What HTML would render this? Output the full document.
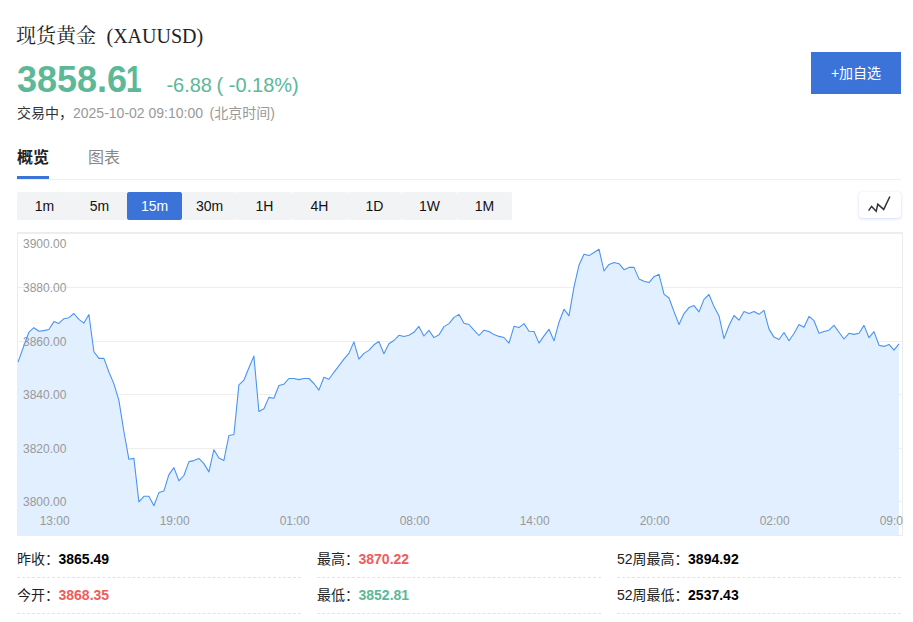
<!DOCTYPE html>
<html lang="zh-CN">
<head>
<meta charset="utf-8">
<title>现货黄金 (XAUUSD)</title>
<style>
*{margin:0;padding:0;box-sizing:border-box;}
html,body{width:913px;height:622px;overflow:hidden;background:#fff;}
body{font-family:"Liberation Sans","Noto Sans CJK SC",sans-serif;color:#222;position:relative;}
.abs{position:absolute;white-space:nowrap;}
.title{left:17px;top:22px;font-family:"Liberation Serif","Noto Serif CJK SC",serif;font-size:20px;line-height:28px;color:#222;word-spacing:4.5px;}
.price{left:17px;top:59px;font-size:36px;line-height:42px;font-weight:bold;color:#5cb897;}
.price i{font-style:normal;display:inline-block;transform:scaleX(.79);transform-origin:0 50%;margin-left:-.7px;}
.chg{left:166.4px;top:73px;font-size:20px;line-height:24px;color:#5cb897;}
.chg2{left:216.5px;top:73px;font-size:20px;line-height:24px;color:#5cb897;}
.status{left:17px;top:104px;font-size:14px;line-height:18px;color:#999;}
.status b{font-weight:normal;color:#333;}
.btn{left:811px;top:52px;width:90px;height:42px;background:#3b73d9;color:#fff;font-size:14px;line-height:42px;text-align:center;}
.tab1{left:17px;top:147px;font-size:16px;line-height:22px;font-weight:bold;color:#222;}
.tab2{left:88px;top:147px;font-size:16px;line-height:22px;color:#888;}
.tabline{left:17px;top:176px;width:32px;height:3px;background:#3b73d9;}
.hr{left:17px;top:179px;width:884px;height:1px;background:#eee;}
.per{left:17px;top:192px;height:28px;display:flex;}
.per span{display:block;width:55px;height:28px;line-height:28px;text-align:center;font-size:14px;color:#111;background:#f2f3f5;border-radius:2px;}
.per span.on{background:#3b73d9;color:#fff;}
.tog{left:859px;top:192px;width:42px;height:26px;background:#fff;border-radius:3px;box-shadow:0 0 1px rgba(80,110,180,.22),0 1px 3px rgba(59,115,217,.22);}
.chart{left:17px;top:232px;width:886px;height:304px;}
.stat{font-size:14px;line-height:18px;color:#222;}
.stat b{font-weight:bold;margin-left:-0.5px;color:#000}
.stat b.red{color:#f05c5c;}
.stat b.grn{color:#5cb897;}
.dash{height:0;border-top:1px dashed #e3e3e3;}
</style>
</head>
<body>
<div class="abs title"><span style="margin-left:-1px;margin-right:1px">现货黄金</span> (XAUUSD)</div>
<div class="abs price">3858.6<i>1</i></div>
<div class="abs chg">-6.88</div><div class="abs chg2">( -0.18%)</div>
<div class="abs status"><b>交易中，</b>2025-10-02 09:10:00 <span style="margin-left:2.7px">(北京时间)</span></div>
<div class="abs btn">+加自选</div>
<div class="abs tab1">概览</div>
<div class="abs tab2">图表</div>
<div class="abs tabline"></div>
<div class="abs hr"></div>
<div class="abs per"><span>1m</span><span>5m</span><span class="on">15m</span><span>30m</span><span>1H</span><span>4H</span><span>1D</span><span>1W</span><span>1M</span></div>
<div class="abs tog"><svg width="42" height="26" viewBox="0 0 42 26" style="display:block"><path d="M9.6 18.6 L12.6 14.4 L17.2 19.3 L18.8 12.1 L24.7 17.4 L30.9 4.5" fill="none" stroke="#333" stroke-width="1.5" stroke-linejoin="miter"/></svg></div>
<svg class="abs chart" width="886" height="304" viewBox="0 0 886 304">
<rect x="0.5" y="0.5" width="885" height="303" fill="#fff" stroke="#ececec"/>
<line x1="1" x2="885" y1="1.5" y2="1.5" stroke="#eeeeee" stroke-width="1"/>
<line x1="1" x2="885" y1="55.5" y2="55.5" stroke="#eeeeee" stroke-width="1"/>
<line x1="1" x2="885" y1="109.5" y2="109.5" stroke="#eeeeee" stroke-width="1"/>
<line x1="1" x2="885" y1="162.5" y2="162.5" stroke="#eeeeee" stroke-width="1"/>
<line x1="1" x2="885" y1="216.5" y2="216.5" stroke="#eeeeee" stroke-width="1"/>
<line x1="1" x2="885" y1="269.5" y2="269.5" stroke="#eeeeee" stroke-width="1"/>
<path d="M1.0 130.1 L1.9 127.6 L6.9 113.8 L11.9 100.2 L16.9 95.7 L21.9 99.3 L26.9 98.6 L31.9 97.5 L36.9 89.6 L41.9 91.4 L46.9 86.7 L51.9 85.7 L56.9 81.5 L61.9 87.4 L66.9 91.1 L71.9 82.5 L76.9 119.7 L81.9 126.4 L86.9 126.4 L91.9 140.0 L96.9 151.9 L101.9 168.4 L106.9 199.5 L111.9 227.3 L116.9 226.4 L121.9 269.9 L126.9 264.3 L131.9 264.3 L136.9 273.8 L141.9 260.6 L146.9 258.9 L151.9 242.6 L156.9 235.6 L161.9 248.8 L166.9 243.5 L171.9 229.6 L176.9 228.6 L181.9 226.4 L186.9 231.6 L191.9 239.9 L196.9 217.7 L201.9 226.0 L206.9 228.4 L211.9 203.5 L216.9 202.5 L221.9 152.9 L226.9 148.2 L231.9 135.7 L236.9 124.1 L241.9 179.5 L246.9 176.8 L251.9 165.4 L256.9 166.3 L261.9 153.5 L266.9 152.2 L271.9 146.5 L276.9 146.5 L281.9 147.6 L286.9 146.5 L291.9 146.5 L296.9 151.5 L301.9 158.1 L306.9 145.3 L311.9 147.3 L316.9 140.3 L321.9 133.8 L326.9 127.2 L331.9 121.4 L336.9 109.9 L341.9 127.1 L346.9 121.4 L351.9 118.4 L356.9 112.8 L361.9 109.5 L366.9 121.8 L371.9 111.8 L376.9 108.5 L381.9 103.3 L386.9 104.5 L391.9 103.3 L396.9 100.3 L401.9 94.4 L406.9 104.0 L411.9 98.3 L416.9 105.6 L422.0 102.7 L427.0 94.6 L432.0 91.6 L437.0 85.4 L442.0 82.4 L447.0 91.2 L452.0 92.5 L457.0 98.2 L462.0 103.5 L467.0 98.2 L472.0 99.5 L477.0 102.6 L482.0 104.4 L487.0 105.5 L492.0 111.1 L497.0 94.3 L502.0 95.6 L507.0 91.6 L512.0 99.3 L517.0 99.5 L522.0 111.1 L527.0 103.9 L532.0 97.3 L537.0 108.8 L542.0 90.2 L547.0 77.2 L552.0 83.8 L557.0 54.8 L562.0 33.1 L567.0 22.2 L572.0 23.6 L577.0 20.5 L582.0 17.2 L587.0 39.0 L592.0 32.4 L597.0 30.4 L602.0 31.7 L607.0 37.7 L612.0 35.4 L617.0 35.4 L622.0 46.9 L627.0 49.3 L632.0 50.6 L637.0 44.7 L642.0 42.3 L647.0 62.1 L652.0 66.0 L657.0 79.6 L662.0 92.5 L667.0 81.6 L672.0 75.6 L677.0 73.6 L682.0 79.9 L687.0 67.4 L692.0 62.5 L697.0 74.6 L702.0 83.9 L707.0 106.6 L712.0 93.5 L717.0 83.5 L722.0 88.2 L727.0 79.5 L732.0 81.6 L737.0 79.5 L742.0 82.3 L747.0 78.3 L752.0 97.1 L757.0 105.1 L762.0 107.5 L767.0 100.5 L772.0 108.8 L777.0 101.5 L782.0 92.6 L787.0 95.2 L792.0 84.4 L797.0 88.7 L802.0 101.3 L807.0 99.5 L812.0 98.2 L817.0 93.4 L822.0 100.2 L827.0 107.0 L832.0 101.3 L837.0 102.4 L842.0 101.3 L847.0 93.4 L852.0 105.7 L857.0 99.6 L862.0 113.2 L867.0 114.4 L872.0 112.4 L877.0 118.1 L882.0 111.9 L882.0 303 L1.0 303 Z" fill="#e1efff"/>
<path d="M1.0 130.1 L1.9 127.6 L6.9 113.8 L11.9 100.2 L16.9 95.7 L21.9 99.3 L26.9 98.6 L31.9 97.5 L36.9 89.6 L41.9 91.4 L46.9 86.7 L51.9 85.7 L56.9 81.5 L61.9 87.4 L66.9 91.1 L71.9 82.5 L76.9 119.7 L81.9 126.4 L86.9 126.4 L91.9 140.0 L96.9 151.9 L101.9 168.4 L106.9 199.5 L111.9 227.3 L116.9 226.4 L121.9 269.9 L126.9 264.3 L131.9 264.3 L136.9 273.8 L141.9 260.6 L146.9 258.9 L151.9 242.6 L156.9 235.6 L161.9 248.8 L166.9 243.5 L171.9 229.6 L176.9 228.6 L181.9 226.4 L186.9 231.6 L191.9 239.9 L196.9 217.7 L201.9 226.0 L206.9 228.4 L211.9 203.5 L216.9 202.5 L221.9 152.9 L226.9 148.2 L231.9 135.7 L236.9 124.1 L241.9 179.5 L246.9 176.8 L251.9 165.4 L256.9 166.3 L261.9 153.5 L266.9 152.2 L271.9 146.5 L276.9 146.5 L281.9 147.6 L286.9 146.5 L291.9 146.5 L296.9 151.5 L301.9 158.1 L306.9 145.3 L311.9 147.3 L316.9 140.3 L321.9 133.8 L326.9 127.2 L331.9 121.4 L336.9 109.9 L341.9 127.1 L346.9 121.4 L351.9 118.4 L356.9 112.8 L361.9 109.5 L366.9 121.8 L371.9 111.8 L376.9 108.5 L381.9 103.3 L386.9 104.5 L391.9 103.3 L396.9 100.3 L401.9 94.4 L406.9 104.0 L411.9 98.3 L416.9 105.6 L422.0 102.7 L427.0 94.6 L432.0 91.6 L437.0 85.4 L442.0 82.4 L447.0 91.2 L452.0 92.5 L457.0 98.2 L462.0 103.5 L467.0 98.2 L472.0 99.5 L477.0 102.6 L482.0 104.4 L487.0 105.5 L492.0 111.1 L497.0 94.3 L502.0 95.6 L507.0 91.6 L512.0 99.3 L517.0 99.5 L522.0 111.1 L527.0 103.9 L532.0 97.3 L537.0 108.8 L542.0 90.2 L547.0 77.2 L552.0 83.8 L557.0 54.8 L562.0 33.1 L567.0 22.2 L572.0 23.6 L577.0 20.5 L582.0 17.2 L587.0 39.0 L592.0 32.4 L597.0 30.4 L602.0 31.7 L607.0 37.7 L612.0 35.4 L617.0 35.4 L622.0 46.9 L627.0 49.3 L632.0 50.6 L637.0 44.7 L642.0 42.3 L647.0 62.1 L652.0 66.0 L657.0 79.6 L662.0 92.5 L667.0 81.6 L672.0 75.6 L677.0 73.6 L682.0 79.9 L687.0 67.4 L692.0 62.5 L697.0 74.6 L702.0 83.9 L707.0 106.6 L712.0 93.5 L717.0 83.5 L722.0 88.2 L727.0 79.5 L732.0 81.6 L737.0 79.5 L742.0 82.3 L747.0 78.3 L752.0 97.1 L757.0 105.1 L762.0 107.5 L767.0 100.5 L772.0 108.8 L777.0 101.5 L782.0 92.6 L787.0 95.2 L792.0 84.4 L797.0 88.7 L802.0 101.3 L807.0 99.5 L812.0 98.2 L817.0 93.4 L822.0 100.2 L827.0 107.0 L832.0 101.3 L837.0 102.4 L842.0 101.3 L847.0 93.4 L852.0 105.7 L857.0 99.6 L862.0 113.2 L867.0 114.4 L872.0 112.4 L877.0 118.1 L882.0 111.9" fill="none" stroke="#4a93f0" stroke-width="1.08" stroke-linejoin="round"/>
<g font-family="Liberation Sans, Arial, sans-serif" font-size="12" fill="#999">
<text x="6" y="15.8">3900.00</text>
<text x="6" y="59.8">3880.00</text>
<text x="6" y="113.8">3860.00</text>
<text x="6" y="166.8">3840.00</text>
<text x="6" y="220.8">3820.00</text>
<text x="6" y="273.8">3800.00</text>
<text x="37.7" y="293.1" text-anchor="middle">13:00</text>
<text x="157.7" y="293.1" text-anchor="middle">19:00</text>
<text x="277.7" y="293.1" text-anchor="middle">01:00</text>
<text x="397.7" y="293.1" text-anchor="middle">08:00</text>
<text x="517.7" y="293.1" text-anchor="middle">14:00</text>
<text x="637.7" y="293.1" text-anchor="middle">20:00</text>
<text x="757.7" y="293.1" text-anchor="middle">02:00</text>
<text x="877.7" y="293.1" text-anchor="middle">09:00</text>
</g>
</svg>
<div class="abs stat" style="left:17px;top:550px">昨收：<b>3865.49</b></div>
<div class="abs stat" style="left:317px;top:550px">最高：<b class="red">3870.22</b></div>
<div class="abs stat" style="left:617px;top:550px">52周最高：<b>3894.92</b></div>
<div class="abs dash" style="left:17px;top:577px;width:284px"></div>
<div class="abs dash" style="left:317px;top:577px;width:284px"></div>
<div class="abs dash" style="left:617px;top:577px;width:284px"></div>
<div class="abs stat" style="left:17px;top:586px">今开：<b class="red">3868.35</b></div>
<div class="abs stat" style="left:317px;top:586px">最低：<b class="grn">3852.81</b></div>
<div class="abs stat" style="left:617px;top:586px">52周最低：<b>2537.43</b></div>
<div class="abs dash" style="left:17px;top:613px;width:284px"></div>
<div class="abs dash" style="left:317px;top:613px;width:284px"></div>
<div class="abs dash" style="left:617px;top:613px;width:284px"></div>
</body>
</html>
